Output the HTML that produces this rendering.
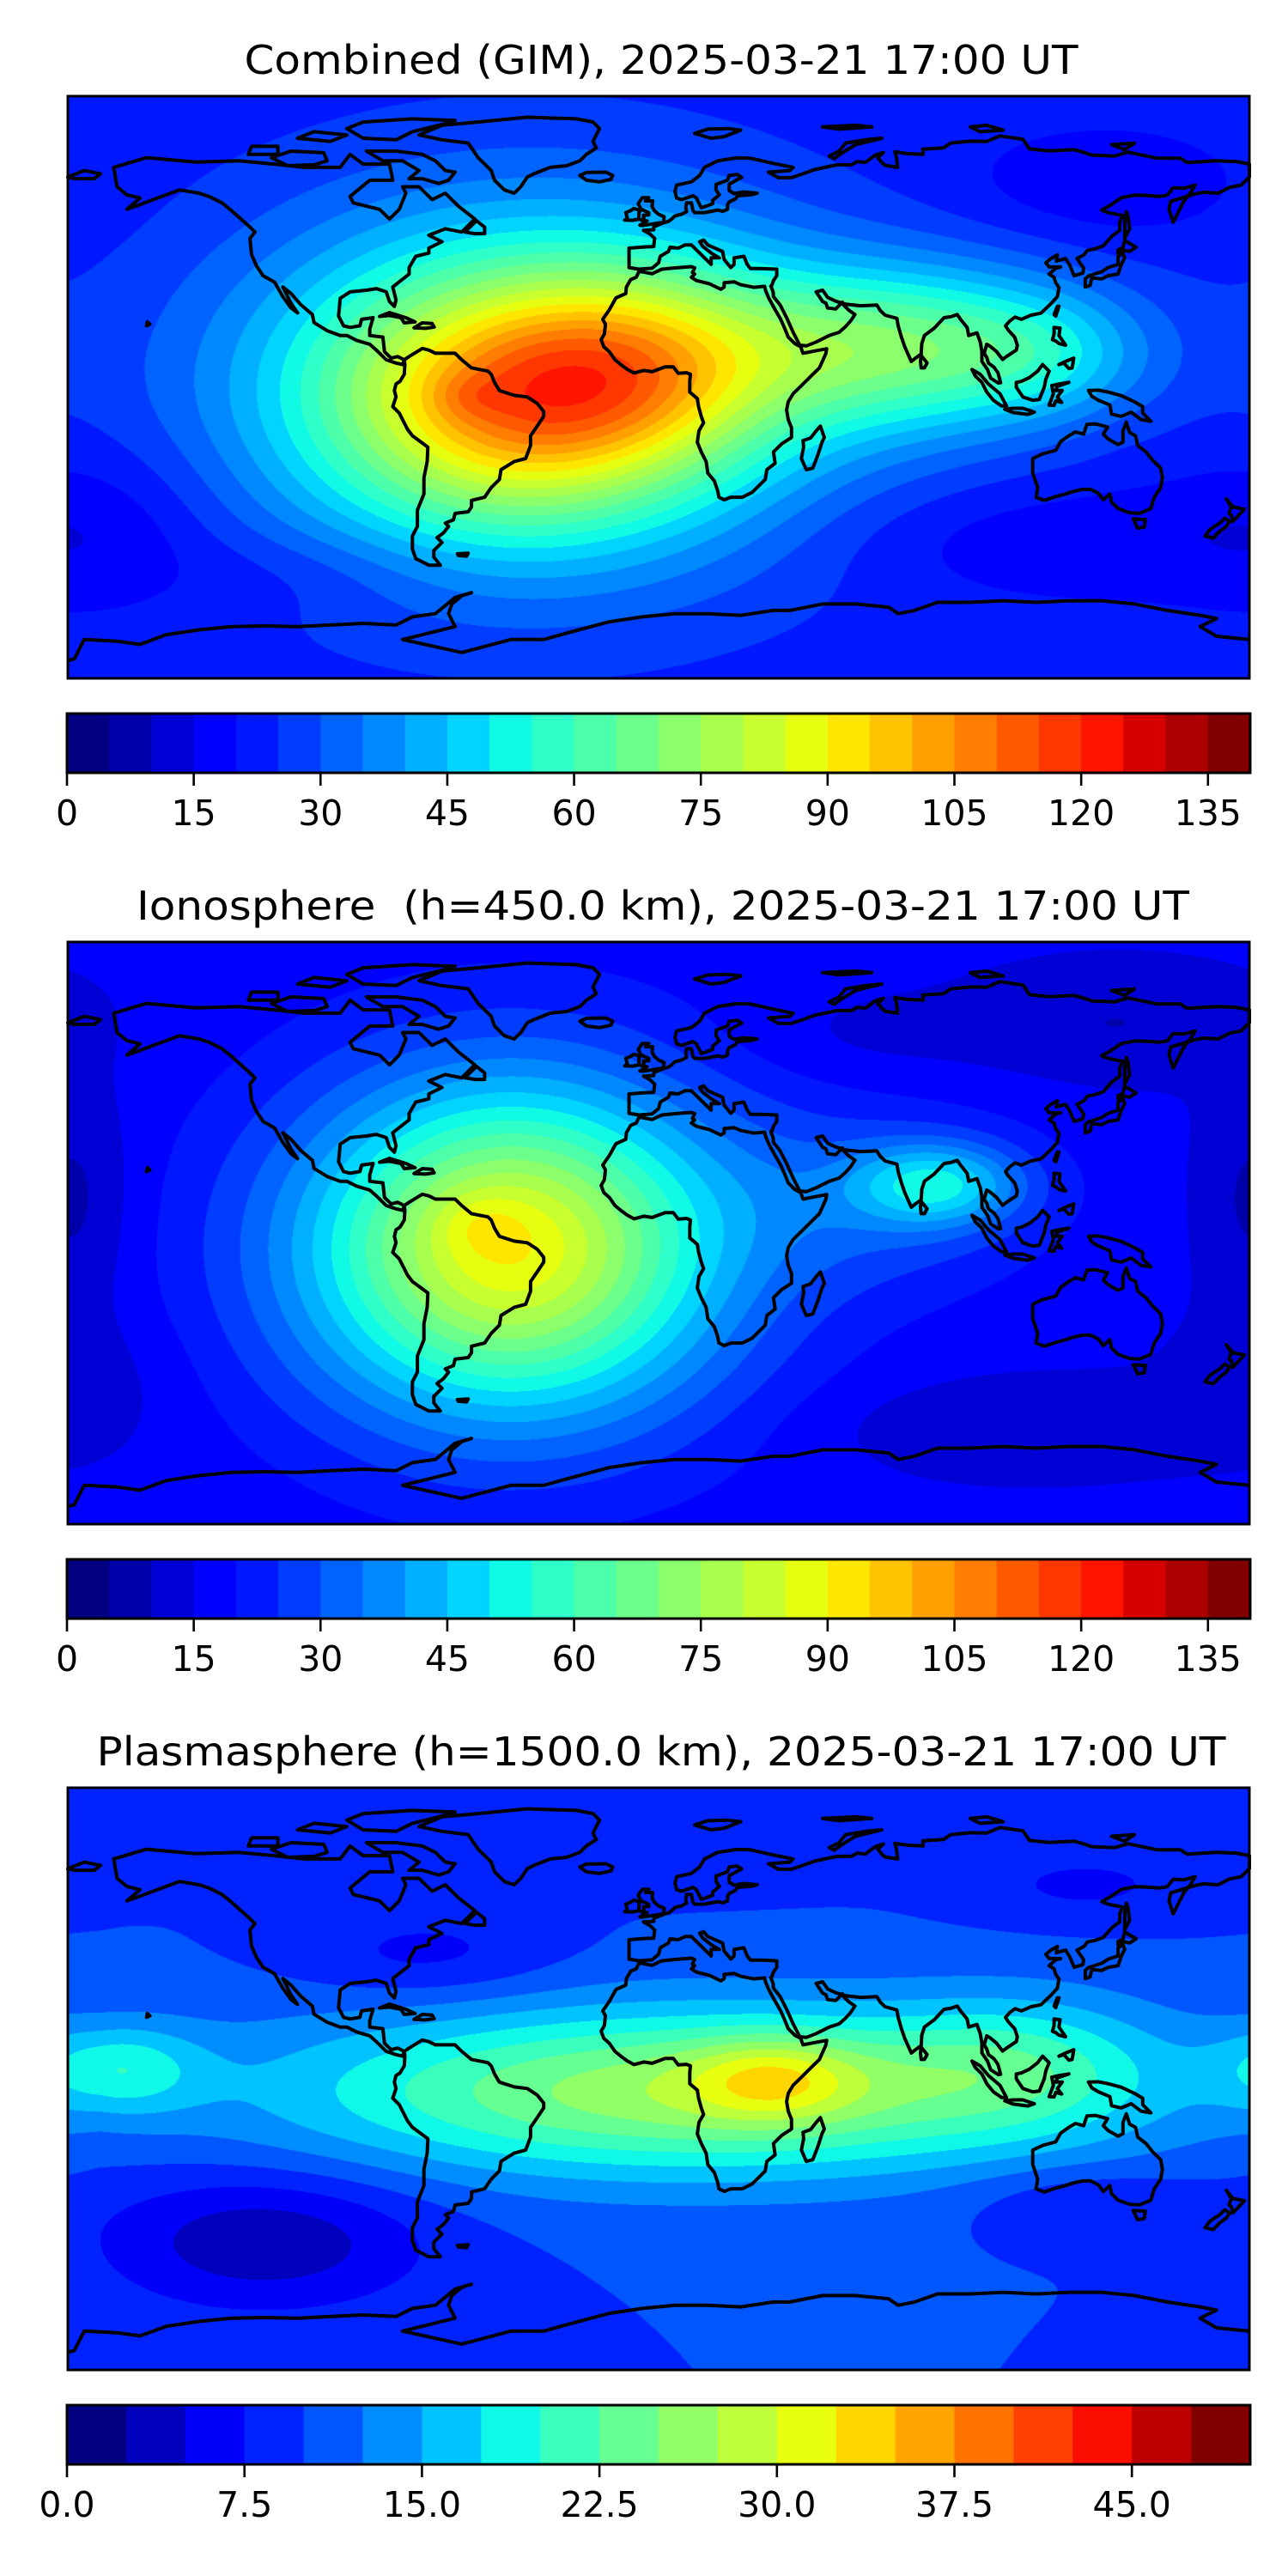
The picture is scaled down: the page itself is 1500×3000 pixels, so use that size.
<!DOCTYPE html>
<html><head><meta charset="utf-8">
<style>
html,body{margin:0;padding:0;background:#fff;}
#root{position:relative;width:1500px;height:3000px;background:#fff;overflow:hidden;}
canvas{position:absolute;}
svg{position:absolute;left:0;top:0;}
text{white-space:pre;}
</style></head>
<body>
<div id="root">
<canvas id="c0" width="1376" height="678" style="left:79px;top:112px"></canvas>
<canvas id="c1" width="1376" height="678" style="left:79px;top:1097px"></canvas>
<canvas id="c2" width="1376" height="678" style="left:79px;top:2082px"></canvas>
<svg id="ov" width="1500" height="3000">
<text x="770" y="86" font-family="DejaVu Sans, Liberation Sans, sans-serif" font-size="46" text-anchor="middle" textLength="971" lengthAdjust="spacingAndGlyphs">Combined (GIM), 2025-03-21 17:00 UT</text>
<text x="772" y="1071" font-family="DejaVu Sans, Liberation Sans, sans-serif" font-size="46" text-anchor="middle" textLength="1226" lengthAdjust="spacingAndGlyphs">Ionosphere&#160; (h=450.0 km), 2025-03-21 17:00 UT</text>
<text x="770" y="2056" font-family="DejaVu Sans, Liberation Sans, sans-serif" font-size="46" text-anchor="middle" textLength="1315" lengthAdjust="spacingAndGlyphs">Plasmasphere (h=1500.0 km), 2025-03-21 17:00 UT</text>
</svg>
</div>
<script>
// ---- data ----
const panelTops = [112, 1097, 2082];
const levels0 = [0,5,10,15,20,25,30,35,40,45,50,55,60,65,70,75,80,85,90,95,100,105,110,115,120,125,130,135,140];
const levels2 = [0,2.5,5,7.5,10,12.5,15,17.5,20,22.5,25,27.5,30,32.5,35,37.5,40,42.5,45,47.5,50];
const ticks0 = [0,15,30,45,60,75,90,105,120,135];
const tickLabels0 = ["0","15","30","45","60","75","90","105","120","135"];
const ticks2 = [0,7.5,15,22.5,30,37.5,45];
const tickLabels2 = ["0.0","7.5","15.0","22.5","30.0","37.5","45.0"];

// field blobs: combined
const m0Base = 22;
const m0Lon  = [-40, -48, -58, -5, 75, 120, -170, 135, 120, -110];
const m0Lat  = [0, -5, -3, 5, 12, 10, -42, 62, -48, -58];
const m0Amp  = [52, 32, 5, 30, 40, 12, -7, -6, -6, -4];
const m0SLon = [60, 34, 8, 30, 40, 22, 25, 30, 45, 30];
const m0SLat = [38, 24, 5, 22, 18, 14, 18, 12, 12, 10];
// ionosphere
const m1Base = 16;
const m1Lon  = [-45, -45, -55, 85, 70, -178, 140, 110, -175, 60];
const m1Lat  = [-5, -5, 3, 15, 10, 10, 65, -60, -45, 60];
const m1Amp  = [60, 14, 5, 26, 12, -8, -6, -6, -4, -3];
const m1SLon = [48, 30, 10, 18, 35, 12, 30, 40, 20, 30];
const m1SLat = [38, 26, 7, 9, 20, 25, 12, 10, 15, 10];
// plasmasphere
const m2Base = 10;
const m2Lon  = [10, 35, 110, -165, -120, -70, 130, 130, 0, -100];
const m2Lat  = [-4, 0, 5, 3, -50, 38, 60, -38, 70, 70];
const m2Amp  = [17, 8, 6, 8, -7, -3.5, -3, -3, -2, -2];
const m2SLon = [85, 18, 30, 18, 35, 28, 25, 25, 40, 40];
const m2SLat = [18, 9, 15, 10, 15, 10, 8, 8, 8, 8];

// coastlines [lon,lat]
const coasts = [
[[-165,62],[-166,68],[-156,71],[-141,69.6],[-128,70],[-117,69],[-108,68],[-97,68],[-94,72],[-90,69],[-82,69],[-81,64],[-88,64],[-94,59],[-93,57],[-85,55],[-82,52],[-79,55],[-77,60],[-78,62],[-73,62],[-69,58],[-65,60],[-61,56],[-56,52],[-60,48],[-65,49],[-70,47],[-66,45],[-70,43],[-70,41.5],[-74,40.5],[-76,37],[-76,35],[-81,31],[-80,27],[-80.5,25],[-82,26.5],[-83,29.5],[-86,30.5],[-89,30],[-94,29.5],[-97,27.5],[-97.5,22],[-96,19],[-94,18.5],[-91,19],[-90.5,21],[-87,21.5],[-88,18],[-88,16],[-84,15.5],[-83.5,11],[-81.5,9],[-79.5,9.5],[-77.5,8.5],[-78,7],[-80,7.5],[-83,8.5],[-86,11.5],[-88,13.3],[-92,14.5],[-95,16],[-97,16],[-101,17.5],[-105,20],[-105.5,22.5],[-109,25.5],[-112,29],[-114.5,31],[-113,28],[-112,26],[-110,23],[-112,24.5],[-114.5,28],[-117,32.5],[-120.5,34.5],[-122.5,37.5],[-124,41],[-124.5,46],[-123,48],[-125,50],[-130,54.5],[-133,57],[-137,59],[-140,60],[-146,61],[-150,59.5],[-154,58],[-158,56.5],[-162,55],[-158,58.5],[-162,59.5],[-165,62]],
[[-77.5,8.5],[-76,9.5],[-72,12],[-70,11.5],[-68,10.5],[-62,10.5],[-60,8.5],[-57,6],[-52,5],[-51,4],[-50,1.5],[-48.5,-1],[-44,-2.5],[-40,-3],[-37,-5],[-35,-7.5],[-35,-9],[-37,-12],[-39,-15],[-39,-18],[-40.5,-22],[-44,-23],[-48,-25.5],[-48.5,-28.5],[-51,-31],[-53,-34],[-57,-35],[-57,-37],[-58,-38.5],[-62,-39],[-62.5,-41],[-65,-42],[-64,-43],[-65.5,-45],[-67.5,-46.5],[-66,-48],[-68.5,-50.5],[-68.5,-52.5],[-66.5,-55],[-70,-55],[-74,-53],[-75,-50],[-75,-46],[-73.5,-43],[-73.5,-38],[-71.5,-33],[-71.5,-28],[-70.5,-23],[-70.3,-18.5],[-75,-15],[-76.5,-13],[-79,-8],[-81,-6],[-80,-3],[-80.5,-1],[-80,1],[-78.8,1.8],[-77.5,4],[-77.3,7],[-77.5,8.5]],
[[-73,78],[-66,81],[-55,82],[-40,83.5],[-25,83],[-20,82],[-18,80],[-20,76],[-19,74],[-22,72],[-24,70],[-28,68.5],[-33,68],[-38,66],[-40,65],[-42,62],[-44,60],[-47,61],[-50,64],[-51,67],[-53,69],[-55,71],[-58,75.5],[-66,76.5],[-73,78]],
[[-9,43],[-9,39],[-9,37],[-6,36.5],[-2,36.8],[0,38.5],[0.5,40.5],[3,42],[3.5,43.3],[6,43],[8,44],[10,44],[12.5,41.5],[16,38],[16,40],[18.5,40],[16,41.5],[13.5,43.5],[12.5,45],[13.7,45.5],[15,44],[19.5,42],[20,39.5],[22,37],[23,38],[23,40],[26,40.5],[27,38],[28,36.7],[31,36.7],[36,36.5],[36,34.5],[35,33],[34.5,31.5],[34.2,31.3],[34.9,29.5],[35,28],[37,25.5],[39,21.5],[41,17],[43,13],[45,12.8],[48,14],[52,16],[55,17],[57,18.8],[58.5,20.5],[59.8,22.5],[58,23.8],[56.3,25.5],[56,26.3],[54,24.2],[51.5,24.5],[51,26],[50,26.5],[48,29.5],[50,30],[51.5,27.8],[54,26.6],[57,25.7],[61.5,25.2],[66.5,25.4],[67.5,23.8],[69,22.3],[72.6,21.3],[73,19],[74,15.5],[75,12.5],[77,8],[78,8.8],[80,10.3],[80.2,13.5],[81,16],[84,18.3],[87,21.5],[89,21.8],[91,22.5],[92,21],[94,18.5],[94.5,16],[97,16.8],[98,14],[98.5,11],[98.5,8],[100.2,5.5],[101.2,2.8],[103.5,1.3],[104.2,1.4],[103.4,4.5],[102.2,6.2],[100.5,7.5],[100,9.2],[99.2,10.5],[100,13.3],[101,12.7],[103,11],[104.8,8.6],[106,9.5],[109,11.5],[109.3,13],[108.5,15.5],[106.5,17.7],[105.7,19],[107,20.5],[108.6,21.7],[110.5,21],[113.5,22.3],[116.5,22.9],[119.5,25.8],[121.5,28],[122,30.8],[121,32.3],[120.5,34],[119,35],[121,36.8],[122.5,37.2],[119,37.2],[118,38.5],[119.5,39.8],[121.5,40.9],[121.2,39],[124,39.8],[125.3,37.7],[126.6,34.5],[129.3,35.3],[129.5,36.8],[128.5,38.3],[127.5,39.8],[129.7,41],[130.6,42.3],[133,42.8],[135.5,43.7],[138.2,46.8],[140.5,48.5],[140.5,51],[141.3,53.1],[137,54],[135,54.8],[137.8,56.4],[141,58.6],[145,59.4],[148.5,59.3],[152.5,59],[155,59.4],[156.8,61.7],[160,61.5],[163.5,62.5],[162,60],[160,57.5],[156.8,51],[155.5,55],[156,57.5],[163.5,59.8],[166,60.3],[170.5,60],[174,61.8],[177.5,62.5],[179.5,64.5],[180,65],[180,69],[176,69.8],[170,70],[161,69.5],[159,70.8],[152,70.8],[143,72.7],[139,71.5],[132,71.8],[129,72.8],[126.5,73.5],[119,73.1],[113,73.7],[111,76.7],[104,77.7],[100,76],[95,76.1],[89,75.5],[86.8,74],[80.5,73.6],[80.6,72],[76,72.2],[72,72.8],[72.5,71],[72.8,68],[69,68.6],[68,69.5],[66.8,71],[68.5,72.6],[66,71.8],[63,69.5],[60.5,69.8],[58.8,68.8],[54.5,68.8],[53,68.5],[47.5,67.3],[44,66],[40.5,64.8],[36.5,64.8],[33.5,66.5],[40,67],[41,68],[35,69.2],[28,70.8],[23.7,70.9],[18,70],[14,68],[12.5,65.5],[10,63.5],[5.5,62.5],[5,60.5],[5.5,58.5],[7,58],[10.5,59.2],[11.5,58.5],[12.5,56.5],[13,55.5],[14.5,56],[16.5,56.8],[16.5,57.8],[18.5,59.5],[17.5,61],[17.5,62.7],[21,64],[21.5,65.5],[24,65.8],[25.3,64.9],[21.5,62.8],[21.5,60.8],[23,59.9],[26,60.4],[30,60],[28,59.5],[24,59.2],[23.5,58.3],[21.5,57.3],[21,56.5],[21,55],[19.5,54.4],[18,54.8],[14,54],[11,54],[10.5,54.6],[10,57],[8.5,57],[8.3,55.5],[8.5,54.3],[7,53.5],[5,53],[4,52],[3,51.3],[1.6,50.9],[-1.5,49.6],[-1.5,48.7],[-4.6,48.5],[-2.5,47.3],[-1.2,46],[-1.5,43.5],[-4,43.4],[-9,43]],
[[-180,65],[-175,67],[-170,66],[-172,64.5],[-178,64.5],[-180,65]],
[[-5,50],[1.5,51],[1.7,52.7],[0,53.5],[-1.3,54.6],[-2,55.9],[-1.8,57.6],[-4,57.6],[-3,58.6],[-5,58.6],[-6.2,56.8],[-5.5,55.3],[-4.8,54.8],[-3,54],[-3,53.3],[-4.6,53.2],[-4.5,52.2],[-5.3,51.7],[-3.5,51.4],[-5.7,50.1],[-5,50]],
[[-6,52],[-6,53.9],[-5.6,54.6],[-7.5,55.3],[-8.5,54.6],[-10,54],[-9.5,52.2],[-10.3,51.7],[-8,51.6],[-6,52]],
[[-6,35.8],[-5,35.7],[-2,35.1],[1,36.5],[5,36.9],[10,37.3],[11,36.9],[10.3,35.5],[11,35],[10,34],[11.5,33],[15.5,32],[19,30.3],[20,31],[20,32.3],[23,32.6],[25,31.7],[29,30.9],[32.3,31.2],[32.6,29.9],[33.6,27.5],[35.5,24],[37.2,21],[38.5,18],[39.5,15.5],[41.5,13.5],[43.3,12.5],[44,10.5],[47.5,11.2],[51.2,11.9],[51,10.5],[49,6],[47,4],[43,0],[41,-2],[39.5,-4.5],[39,-7],[39.5,-10],[40.5,-12.5],[40.5,-15.5],[37.5,-17.5],[35,-20],[35.5,-23.5],[33,-25.5],[32.5,-28.5],[31,-30],[28.5,-32.5],[25.5,-34],[22,-34],[20,-34.8],[18.4,-34],[18,-32],[17,-29],[15,-26.5],[14.5,-23],[13,-20],[11.8,-17],[12.3,-13.5],[13.7,-11],[13,-9],[12.2,-6],[11.8,-3.5],[9.5,-1.5],[9.5,2],[9.7,4],[8.5,4.5],[6,4.3],[4.5,6.3],[2,6.3],[-2,4.8],[-4.5,5.2],[-7.5,4.4],[-9.5,5.5],[-11.5,7],[-13.3,8.5],[-15,11],[-16.7,12.5],[-17.5,14.7],[-16.5,16.5],[-16.2,19.5],[-17,21],[-15,24],[-13,27.6],[-10,29],[-9.8,31],[-8.5,33.3],[-6.8,34],[-6,35.8]],
[[49.3,-12],[50.5,-15.5],[49.8,-17],[48.5,-21],[47,-25],[45,-25.5],[43.5,-22],[44.2,-18.5],[44,-16.5],[46.3,-15.7],[48,-13.5],[49.3,-12]],
[[114,-22],[114,-26.5],[115.5,-31],[115,-34],[117.5,-35],[121,-33.8],[124,-33],[126,-32.3],[129,-31.6],[131.5,-31.5],[134,-32.8],[135.5,-34.8],[137.5,-33],[138,-35.5],[140,-37.5],[143.5,-38.8],[146.5,-39],[150,-37.5],[151,-34],[153,-31],[153.5,-28],[153,-25],[150.5,-22.5],[148.5,-20],[146,-18],[145.3,-15],[143.5,-14],[142.5,-10.8],[141.5,-13.5],[141.5,-17],[140,-17.7],[137,-16],[135.5,-14.5],[136.8,-12.3],[133,-11.3],[130.5,-11.5],[129.5,-14.5],[127,-13.8],[125,-15],[122.5,-16.8],[121,-19.5],[117,-20.6],[114,-22]],
[[144.6,-40.7],[148.3,-40.9],[148,-43.2],[146,-43.6],[144.6,-40.7]],
[[-180,-84.5],[-178,-84],[-175,-78],[-165,-78.5],[-158,-79.5],[-150,-76.5],[-140,-75],[-130,-74],[-120,-73.8],[-110,-74],[-100,-73.5],[-90,-73],[-80,-73.5],[-75,-71],[-68,-70],[-62,-65],[-57,-63.5],[-60,-64.5],[-63,-67],[-64,-70],[-62,-74],[-70,-76],[-78,-78],[-60,-82],[-45,-78],[-35,-78],[-28,-76],[-15,-72.5],[-5,-71],[5,-70],[15,-70],[25,-70.5],[35,-69],[40,-69],[50,-67],[60,-67],[70,-68],[73,-70],[78,-69],[85,-66.5],[95,-66.5],[105,-66],[115,-66.5],[125,-66],[135,-66],[145,-67],[155,-69],[165,-70.5],[170,-71.5],[165,-74],[170,-77],[180,-78]],
[[130,31],[131.5,31.5],[132,33.8],[135,33.5],[137,34.5],[140,35],[141,38],[142,40],[141.5,41.5],[140,40.5],[140,38],[137,37],[135,35.7],[131,34.4],[130,33.5],[130,31]],
[[140,41.5],[141.5,42.5],[143.5,42],[145.5,43.3],[142,45.4],[141.5,43.2],[140,42.5],[140,41.5]],
[[95.5,5.5],[98,4],[100.5,1],[104,-2],[106,-5.8],[104.5,-5.8],[102,-4],[100,-1.5],[98.5,1.5],[96.5,3.5],[95.5,5.5]],
[[109,1.5],[110.5,1.8],[113,3],[115.5,5],[117,7],[119,5],[118,2.5],[117.5,0],[116.5,-2.5],[116,-3.8],[114,-4],[111,-3],[110,-1.5],[109,0],[109,1.5]],
[[105.5,-6.8],[108,-6.5],[111,-6.5],[114.5,-7.7],[112.5,-8.4],[108,-7.8],[105.5,-6.8]],
[[119,-5.5],[120.3,-2],[119.8,0.5],[122,1],[125,1.5],[121.5,0.3],[121,-1],[123,-1],[121.5,-3],[122.8,-4.7],[121,-4.2],[120.5,-5.6],[119,-5.5]],
[[131,-1],[134,-0.9],[137,-1.5],[141,-2.6],[145,-4.5],[147.5,-6],[147.5,-8],[150,-10.5],[147,-10],[144,-7.7],[141,-9],[138,-8.3],[137.5,-5.5],[134,-4],[132,-2.8],[131,-1]],
[[120.5,18.5],[122.3,18.3],[122,16],[124,13],[122,13.5],[121,14.3],[120,14.7],[120.5,16.5],[120.5,18.5]],
[[122,7],[124,8],[126.5,9],[126,6],[125,5.8],[123.5,7.5],[122,7]],
[[120.5,22.5],[121.5,25],[122,25],[121,22],[120.5,22.5]],
[[80,9.8],[81.8,7.5],[81,6],[80,6],[79.8,8],[80,9.8]],
[[173,-34.5],[175,-37],[178.5,-37.7],[177,-39.3],[175,-41.5],[174.5,-39.5],[173.8,-39],[174.5,-37],[173,-34.5]],
[[172.5,-40.5],[174,-41.5],[173,-43],[171,-44.5],[169,-46.6],[166.5,-46],[168,-44],[171,-42],[172.5,-40.5]],
[[-85,21.9],[-82,23.1],[-77,21.5],[-74.2,20.2],[-77.5,19.9],[-78.5,21.5],[-82,22.2],[-85,21.9]],
[[-74.5,18.4],[-72,19.9],[-69,19.7],[-68.4,18.6],[-71,18.2],[-74.5,18.4]],
[[-22,64],[-24,65.5],[-22,66.4],[-16,66.5],[-14,65.5],[-14.5,64.3],[-18,63.5],[-22,64]],
[[11,78.5],[15,79.8],[21,80],[25,79.5],[20,77.5],[16,77],[11,78.5]],
[[52,71.5],[55,73],[57,75.5],[63,76.5],[68,77],[60,75],[56,72.5],[53.5,70.7],[52,71.5]],
[[-80,73],[-72,72],[-68,70],[-65,67],[-62,66.5],[-64,64],[-67,63],[-72,64.5],[-76,64.5],[-73,67],[-78,70],[-84,70],[-89,73],[-80,73]],
[[-118,71],[-112,73],[-102,72.5],[-101,70],[-105,68.8],[-113,68.5],[-118,71]],
[[-90,77],[-80,76.5],[-75,79],[-65,81.5],[-62,82.5],[-75,83],[-90,82],[-95,80],[-90,77]],
[[-125,72],[-124,74.5],[-116,74.5],[-116,72],[-125,72]],
[[-100,76],[-95,78],[-105,79],[-110,77],[-100,76]],
[[142,46],[143.5,49],[143,53],[142.5,54.3],[142,51],[142,46]],
[[-61.3,-51.5],[-58,-51.3],[-58.5,-52.2],[-61,-52],[-61.3,-51.5]],
[[-156,19],[-155,19.5],[-155.8,20.2],[-156,19]],
[[-56,47.5],[-53,47.5],[-53,49.5],[-55.5,51.5],[-59,48],[-56,47.5]],
[[50,80.5],[60,81],[65,80.5],[55,79.8],[50,80.5]],
[[98,79],[105,79.5],[100,81],[95,80.5],[98,79]],
[[138,75],[145,75.5],[142,73.5],[138,75]]
];
const openIdx = [11];

// ---- helpers ----
const W = 1376, H = 678, MX = 79;
function xOf(lon){ return MX + (lon + 180) / 360 * W; }
function yOf(lat, top){ return top + (90 - lat) / 180 * H; }
function jetc(x){
  function seg(p, x){ for(let i=0;i<p.length-1;i++){ if(x<=p[i+1][0]){ const t=(x-p[i][0])/(p[i+1][0]-p[i][0]); return p[i][1]+t*(p[i+1][1]-p[i][1]); } } return p[p.length-1][1]; }
  const r=seg([[0,0],[0.35,0],[0.66,1],[0.89,1],[1,0.5]],x);
  const g=seg([[0,0],[0.125,0],[0.375,1],[0.64,1],[0.91,0],[1,0]],x);
  const b=seg([[0,0.5],[0.11,1],[0.34,1],[0.65,0],[1,0]],x);
  return [Math.round(r*255),Math.round(g*255),Math.round(b*255)];
}
function levelColors(levels){ const n=levels.length-1; const out=[]; for(let i=0;i<n;i++) out.push(jetc(n>1?i/(n-1):0)); return out; }
function fieldAt(lon, lat, base, L, La, A, SL, SA){
  let v = base;
  for(let i=0;i<L.length;i++){
    let dl = lon - L[i]; if(dl>180) dl-=360; if(dl<-180) dl+=360;
    const dy = lat - La[i];
    v += A[i]*Math.exp(-0.5*((dl/SL[i])*(dl/SL[i]) + (dy/SA[i])*(dy/SA[i])));
  }
  return v;
}
function renderMap(id, levels, base, L, La, A, SL, SA){
  const cv=document.getElementById(id), ctx=cv.getContext('2d');
  const img=ctx.createImageData(W,H), cols=levelColors(levels);
  const lo=levels[0], step=levels[1]-levels[0], n=levels.length-1;
  for(let y=0;y<H;y++){
    const lat=90-(y+0.5)/H*180;
    for(let x=0;x<W;x++){
      const lon=-180+(x+0.5)/W*360;
      const v=fieldAt(lon,lat,base,L,La,A,SL,SA);
      let k=Math.floor((v-lo)/step); if(k<0)k=0; if(k>n-1)k=n-1;
      const c=cols[k], o=(y*W+x)*4;
      img.data[o]=c[0]; img.data[o+1]=c[1]; img.data[o+2]=c[2]; img.data[o+3]=255;
    }
  }
  ctx.putImageData(img,0,0);
}
const NS="http://www.w3.org/2000/svg";
const ov=document.getElementById('ov');
function mk(tag, attrs){ const e=document.createElementNS(NS,tag); for(const k in attrs) e.setAttribute(k,attrs[k]); return e; }

function drawCoasts(top, p){
  const g=mk('g',{});
  
  
  coasts.forEach((poly,i)=>{
    let d='';
    poly.forEach((pt,j)=>{ d+=(j?'L':'M')+xOf(pt[0]).toFixed(1)+' '+yOf(pt[1],top).toFixed(1); });
    if(openIdx.indexOf(i)<0) d+='Z';
    const path=mk('path',{d:d,fill:'none',stroke:'#000','stroke-width':'4','stroke-linejoin':'round'});
    
    
    g.appendChild(path);
  });
  const fr=mk('rect',{x:MX,y:top,width:W,height:H,fill:'none',stroke:'#000','stroke-width':'3'});
  
  
  g.appendChild(fr);
  ov.appendChild(g);
}
function drawColorbar(top, levels, ticks, labels, p){
  const cbTop=top+719, cbH=69, cbL=78, cbW=1378;
  const g=mk('g',{});
  
  
  const cols=levelColors(levels), lo=levels[0], hi=levels[levels.length-1];
  const xs=v=>cbL+(v-lo)/(hi-lo)*cbW;
  for(let i=0;i<levels.length-1;i++){
    const c=cols[i];
    const r=mk('rect',{x:xs(levels[i]),y:cbTop,width:xs(levels[i+1])-xs(levels[i])+0.6,height:cbH,fill:'rgb('+c[0]+','+c[1]+','+c[2]+')'});
    
    
    g.appendChild(r);
  }
  const fr=mk('rect',{x:cbL,y:cbTop,width:cbW,height:cbH,fill:'none',stroke:'#000','stroke-width':'3'});
  
  
  g.appendChild(fr);
  ticks.forEach((t,i)=>{
    const x=xs(t);
    const tk=mk('line',{x1:x,x2:x,y1:cbTop+cbH,y2:cbTop+cbH+15,stroke:'#000','stroke-width':'2.6'});
    
    
    g.appendChild(tk);
    const tx=mk('text',{x:x,y:cbTop+cbH+61,'font-family':'DejaVu Sans, Liberation Sans, sans-serif','font-size':'41','text-anchor':'middle'});
    tx.textContent=labels[i];
    
    
    g.appendChild(tx);
  });
  ov.appendChild(g);
}
renderMap('c0', levels0, m0Base, m0Lon, m0Lat, m0Amp, m0SLon, m0SLat);
renderMap('c1', levels0, m1Base, m1Lon, m1Lat, m1Amp, m1SLon, m1SLat);
renderMap('c2', levels2, m2Base, m2Lon, m2Lat, m2Amp, m2SLon, m2SLat);
drawCoasts(panelTops[0],'combined');
drawCoasts(panelTops[1],'ionosphere');
drawCoasts(panelTops[2],'plasmasphere');
drawColorbar(panelTops[0], levels0, ticks0, tickLabels0, 'combined');
drawColorbar(panelTops[1], levels0, ticks0, tickLabels0, 'ionosphere');
drawColorbar(panelTops[2], levels2, ticks2, tickLabels2, 'plasmasphere');
</script>
</body></html>
